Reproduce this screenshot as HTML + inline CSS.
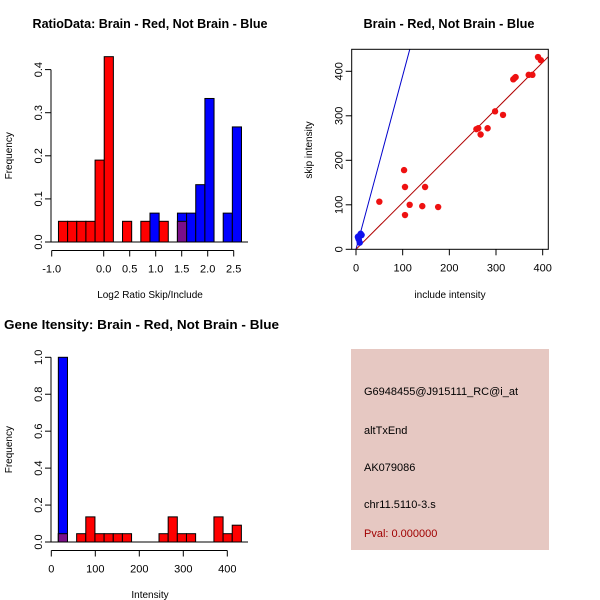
<!DOCTYPE html>
<html><head><meta charset="utf-8"><style>
html,body{margin:0;padding:0;background:#fff}
svg{display:block;font-family:"Liberation Sans",Arial,sans-serif}
</style></head><body>
<svg id="s" width="600" height="600" viewBox="0 0 600 600">
<rect width="600" height="600" fill="#fff"/>
<g id="p1"></g>
<g id="p2"></g>
<g id="p3"></g>
<g>
<rect x="351" y="349" width="198" height="201" fill="#e6c8c2"/>
<text x="364" y="395" font-size="11" fill="#000">G6948455@J915111_RC@i_at</text>
<text x="364" y="434" font-size="11" fill="#000">altTxEnd</text>
<text x="364" y="471" font-size="11" fill="#000">AK079086</text>
<text x="364" y="508" font-size="11" fill="#000">chr11.5110-3.s</text>
<text x="364" y="537" font-size="11" fill="#a00000">Pval: 0.000000</text>
</g>
</svg>
<script>
// Plot 1 data (bin indices, frequencies)
const ratioBinStart = -0.87;
const ratioBinWidth = 0.176;
const ratioRedBins = [0,1,2,3,4,5,7,9,11,13];
const ratioRedFreq = [0.048,0.048,0.048,0.048,0.19,0.43,0.048,0.048,0.048,0.048];
const ratioBlueBins = [10,13,14,15,16,18,19];
const ratioBlueFreq = [0.067,0.067,0.067,0.133,0.333,0.067,0.267];
const ratioXTicks = [-1.0,0.0,0.5,1.0,1.5,2.0,2.5];
const ratioXTickLabels = ["-1.0","0.0","0.5","1.0","1.5","2.0","2.5"];
const ratioYTicks = [0,0.1,0.2,0.3,0.4];
const ratioYTickLabels = ["0.0","0.1","0.2","0.3","0.4"];
// Plot 2 data
const redInclude = [50,103,105,105,115,142,148,176,258,262,267,282,298,315,337,340,342,370,378,390,396];
const redSkip = [107,178,140,77,100,97,140,95,270,272,258,272,310,302,382,385,387,392,392,432,425];
const blueInclude = [5,7,10,8,12,6,4];
const blueSkip = [25,30,35,15,32,22,28];
const redSlope = [1.05];
const blueSlope = [3.9];
const scatXTicks = [0,100,200,300,400];
const scatYTicks = [0,100,200,300,400];
// Plot 3 data
const intBinStart = 16;
const intBinWidth = 20.8;
const intRedBins = [0,2,3,4,5,6,7,11,12,13,14,17,18,19];
const intRedFreq = [0.045,0.045,0.136,0.045,0.045,0.045,0.045,0.045,0.136,0.045,0.045,0.136,0.045,0.091];
const intBlueBins = [0];
const intBlueFreq = [1.0];
const intXTicks = [0,100,200,300,400];
const intYTicks = [0,0.2,0.4,0.6,0.8,1.0];
const intYTickLabels = ["0.0","0.2","0.4","0.6","0.8","1.0"];

const NS="http://www.w3.org/2000/svg";
function mk(parent,tag,attrs){const e=document.createElementNS(NS,tag);for(const k in attrs)e.setAttribute(k,attrs[k]);parent.appendChild(e);return e;}
function txt(parent,x,y,s,attrs){const e=mk(parent,'text',Object.assign({x:x,y:y,'font-size':11,'text-anchor':'middle',fill:'#000'},attrs||{}));e.textContent=s;return e;}

function histogram(g,o){
  const X=v=>o.x0+v*o.xs, Y=v=>o.y0-v*o.ys;
  const drawBars=(bins,freqs,fill,name)=>{
    bins.forEach((b,i)=>{
      const a=o.binStart+b*o.binWidth, c=a+o.binWidth;
      const r=mk(g,'rect',{x:X(a),y:Y(freqs[i]),width:X(c)-X(a),height:Y(0)-Y(freqs[i]),fill:fill,stroke:'#000','stroke-width':1});
      
      
    });
  };
  drawBars(o.redBins,o.redFreq,'#ff0000','bar-brain');
  drawBars(o.blueBins,o.blueFreq,'#0000ff','bar-not-brain');
  // overlap (purple) where both series share a bin
  o.redBins.forEach((b,i)=>{
    const j=o.blueBins.indexOf(b);
    if(j<0)return;
    const f=Math.min(o.redFreq[i],o.blueFreq[j]);
    const a=o.binStart+b*o.binWidth, c=a+o.binWidth;
    const r=mk(g,'rect',{x:X(a),y:Y(f),width:X(c)-X(a),height:Y(0)-Y(f),fill:'#7a0f8a',stroke:'#000','stroke-width':1});
    
    
  });
  const ax=mk(g,'g',{});
  
  
  const ay=o.y0+8.5;
  mk(ax,'line',{x1:X(o.xt[0]),x2:X(o.xt[o.xt.length-1]),y1:ay,y2:ay,stroke:'#000'});
  o.xt.forEach((t,i)=>{mk(ax,'line',{x1:X(t),x2:X(t),y1:ay,y2:ay+6,stroke:'#000'});txt(ax,X(t),ay+22,o.xl[i]);});
  mk(g,'line',{x1:o.bx0,x2:o.bx1,y1:o.y0,y2:o.y0,stroke:'#000'});
  const yax=mk(g,'g',{});
  
  
  const axx=o.x0-o.yOff;
  mk(yax,'line',{x1:axx,x2:axx,y1:Y(o.yt[0]),y2:Y(o.yt[o.yt.length-1]),stroke:'#000'});
  o.yt.forEach((t,i)=>{mk(yax,'line',{x1:axx,x2:axx-6,y1:Y(t),y2:Y(t),stroke:'#000'});txt(yax,axx-13,Y(t)+4,o.yl[i],{transform:`rotate(-90 ${axx-13} ${Y(t)})`});});
  const yt=txt(g,12,(o.y0+Y(o.yt[o.yt.length-1]))/2,'Frequency',{'font-size':10,transform:`rotate(-90 12 ${(o.y0+Y(o.yt[o.yt.length-1]))/2})`});
  
  const xt=txt(g,o.xTitleX,o.y0+56,o.xTitle,{'font-size':10});
  
  const tt=txt(g,o.titleX,o.titleY,o.title,{'font-size':12.5,'font-weight':'bold',textLength:o.titleLen,lengthAdjust:'spacingAndGlyphs'});
  
}

histogram(document.getElementById('p1'),{x0:103.7,xs:52,y0:242,ys:431,binStart:ratioBinStart,binWidth:ratioBinWidth,
  redBins:ratioRedBins,redFreq:ratioRedFreq,blueBins:ratioBlueBins,blueFreq:ratioBlueFreq,
  xt:ratioXTicks,xl:ratioXTickLabels,yt:ratioYTicks,yl:ratioYTickLabels,yOff:52.7,bx0:51,bx1:248,
  xTitle:'Log2 Ratio Skip/Include',xTitleX:150,title:'RatioData: Brain - Red, Not Brain - Blue',titleX:150,titleY:28,titleLen:235});

histogram(document.getElementById('p3'),{x0:51.3,xs:0.44,y0:542,ys:184.7,binStart:intBinStart,binWidth:intBinWidth,
  redBins:intRedBins,redFreq:intRedFreq,blueBins:intBlueBins,blueFreq:intBlueFreq,
  xt:intXTicks,xl:intXTicks.map(String),yt:intYTicks,yl:intYTickLabels,yOff:0.3,bx0:51,bx1:248,
  xTitle:'Intensity',xTitleX:150,title:'Gene Itensity: Brain - Red, Not Brain - Blue',titleX:141.5,titleY:329,titleLen:275});

// Scatter
(function(){
  const g=document.getElementById('p2');
  const x0=356,xs=0.4667,y0=249.3,ys=0.445;
  const X=v=>x0+v*xs,Y=v=>y0-v*ys;
  const L=351.7,R=548.3,T=49.3,B=249.3;
  const cp=mk(g,'clipPath',{id:'clip2'});mk(cp,'rect',{x:L,y:T,width:R-L,height:B-T});
  const lg=mk(g,'g',{'clip-path':'url(#clip2)'});
  const bl=mk(lg,'line',{x1:X(0),y1:Y(0),x2:X(500),y2:Y(500*blueSlope[0]),stroke:'#0000cc','stroke-width':1});
  
  const rl=mk(lg,'line',{x1:X(0),y1:Y(0),x2:X(500),y2:Y(500*redSlope[0]),stroke:'#b00000','stroke-width':1});
  
  redInclude.forEach((v,i)=>{const c=mk(g,'circle',{cx:X(v),cy:Y(redSkip[i]),r:3.2,fill:'#ee1111'});
    });
  blueInclude.forEach((v,i)=>{const c=mk(g,'circle',{cx:X(v),cy:Y(blueSkip[i]),r:3.2,fill:'#1111ee'});
    });
  const fr=mk(g,'rect',{x:L,y:T,width:R-L,height:B-T,fill:'none',stroke:'#000'});
  
  const xa=mk(g,'g',{});
  scatXTicks.forEach(t=>{mk(xa,'line',{x1:X(t),x2:X(t),y1:B,y2:B+6,stroke:'#000'});txt(xa,X(t),B+22,String(t));});
  const ya=mk(g,'g',{});
  scatYTicks.forEach(t=>{mk(ya,'line',{x1:L,x2:L-6,y1:Y(t),y2:Y(t),stroke:'#000'});txt(ya,L-13,Y(t)+4,String(t),{transform:`rotate(-90 ${L-13} ${Y(t)})`});});
  const xt=txt(g,450,298,'include intensity',{'font-size':10});
  const yt=txt(g,312,150,'skip intensity',{'font-size':10,transform:'rotate(-90 312 150)'});
  const tt=txt(g,449,28,'Brain - Red, Not Brain - Blue',{'font-size':12.5,'font-weight':'bold',textLength:171,lengthAdjust:'spacingAndGlyphs'});
})();
</script>
</body></html>
